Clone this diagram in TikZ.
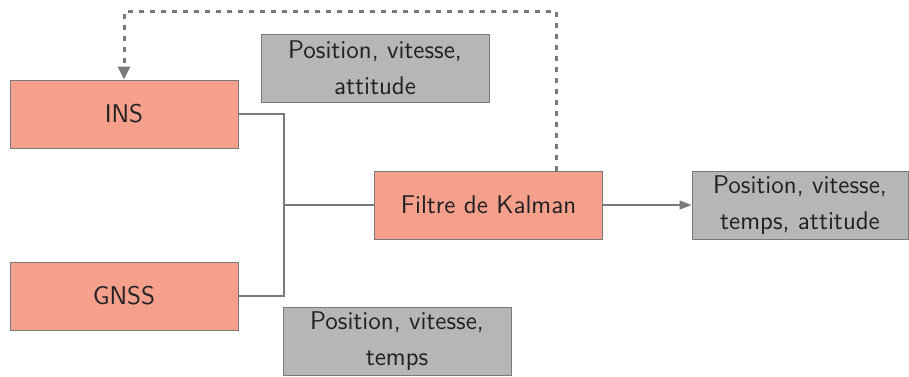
\documentclass[tikz,border=0pt]{standalone}
\usetikzlibrary{arrows.meta}
\definecolor{salmon}{HTML}{F4A08C}
\definecolor{boxgray}{HTML}{B5B6B8}
\definecolor{edge}{HTML}{7A7A7A}
\definecolor{ink}{HTML}{222222}
\begin{document}
\begin{tikzpicture}[x=0.5pt,y=-0.5pt,
  font=\sffamily\fontsize{12.8}{18}\selectfont,
  blockbox/.style={draw=edge,line width=0.5pt,fill=salmon,text=ink,minimum width=114pt,minimum height=34pt,inner sep=0pt,align=center},
  infobox/.style={draw=edge,line width=0.5pt,fill=boxgray,text=ink,minimum width=114pt,minimum height=34pt,inner sep=0pt,align=center},
  wire/.style={draw=edge,line width=0.6pt},
  feedback/.style={draw=edge,line width=1.5pt,dash pattern=on 2.5pt off 3pt,-{Triangle[length=6.5pt,width=6pt]}}
]
\useasboundingbox (0,0) rectangle (909,376);
\node[blockbox] (ins) at (124,114) {INS};
\node[blockbox] (gnss) at (124,296) {GNSS};
\node[blockbox] (kal) at (488.5,205) {Filtre de Kalman};
\node[infobox, minimum width=108pt] (out) at (800,205) {Position, vitesse,\\temps, attitude};
\node[infobox] (lab1) at (375,68) {Position, vitesse,\\attitude};
\node[infobox] (lab2) at (397,341) {Position, vitesse,\\temps};
\coordinate (j) at (284,205);
\coordinate (top) at (0,11);
\coordinate (fb) at ([xshift=33.75pt]kal.north);
\draw[wire] (ins.east) -| (j) -- (kal.west);
\draw[wire] (gnss.east) -| (j);
\draw[wire,-{Triangle[length=6pt,width=4.5pt]}] (kal.east) -- (out.west);
\draw[feedback] (fb) -- (fb |- top) -| (ins.north);
\end{tikzpicture}
\end{document}
